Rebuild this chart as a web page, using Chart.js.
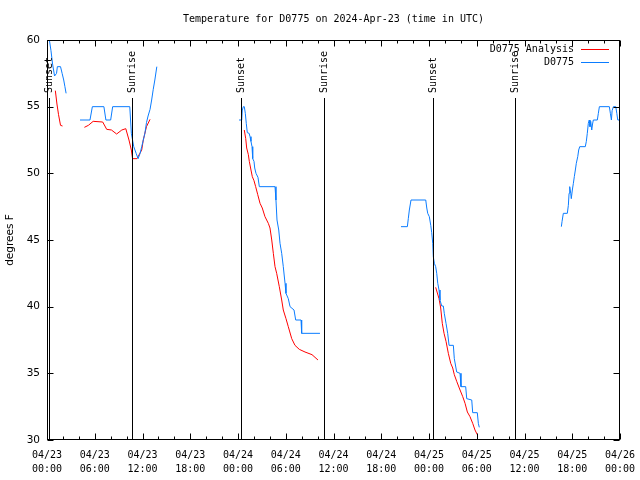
<!DOCTYPE html>
<html>
<head>
<meta charset="utf-8">
<script src="https://cdn.jsdelivr.net/npm/chart.js@4/dist/chart.umd.min.js"></script>
<style>html,body{margin:0;padding:0;background:#fff}canvas{display:block}</style>
</head>
<body>
<canvas id="c" width="640" height="480"></canvas>
<script>
/* Temperature for D0775, analysis vs. observed, hours since 2024-04-23 00:00 UTC */
const MONO = "10px 'DejaVu Sans Mono', monospace";
const SANS = "'DejaVu Sans', sans-serif";
const RED = '#ff0000', BLUE = '#0a7cff';

const xTickLabels = [
  ['04/23', '00:00'], ['04/23', '06:00'], ['04/23', '12:00'], ['04/23', '18:00'],
  ['04/24', '00:00'], ['04/24', '06:00'], ['04/24', '12:00'], ['04/24', '18:00'],
  ['04/25', '00:00'], ['04/25', '06:00'], ['04/25', '12:00'], ['04/25', '18:00'],
  ['04/26', '00:00'],
];
const sunHours = [0.3, 10.72, 24.35, 34.85, 48.54, 58.82];
const sunLabels = ['Sunset', 'Sunrise', 'Sunset', 'Sunrise', 'Sunset', 'Sunrise'];

// D0775 Analysis  [hour, degF]
const analysisSegments = [
  [[1.05, 56.2], [1.25, 55.2], [1.45, 54.4], [1.7, 53.6], [1.95, 53.55]],
  [[4.7, 53.45], [5.2, 53.6], [5.8, 53.9], [7.0, 53.85], [7.5, 53.3], [8.1, 53.25], [8.75, 52.95],
   [9.4, 53.25], [9.9, 53.35], [10.3, 52.5], [10.6, 51.75], [10.75, 51.1], [11.3, 51.1], [11.9, 51.75],
   [12.1, 52.5], [12.5, 53.5], [12.95, 54.05]],
  [[24.79, 53.25], [24.97, 52.6], [25.09, 51.9], [25.3, 51.4], [25.42, 50.9], [25.63, 50.25], [25.8, 49.75],
   [26.01, 49.45], [26.22, 49.0], [26.48, 48.4], [26.77, 47.75], [27.05, 47.4], [27.39, 46.75], [27.81, 46.25],
   [28.02, 45.9], [28.24, 45.0], [28.44, 44.0], [28.65, 43.0], [28.86, 42.5], [29.19, 41.5], [29.49, 40.5],
   [29.69, 39.75], [30.03, 39.1], [30.32, 38.5], [30.75, 37.6], [31.16, 37.1], [31.7, 36.8], [32.42, 36.6],
   [33.3, 36.4], [34.05, 36.0]],
  [[48.84, 41.45], [49.26, 40.6], [49.47, 39.9], [49.67, 38.75], [49.89, 38.0], [50.14, 37.4], [50.43, 36.5],
   [50.73, 35.75], [50.98, 35.4], [51.18, 34.9], [51.48, 34.4], [51.9, 33.75], [52.24, 33.25], [52.53, 32.75],
   [52.82, 32.1], [53.15, 31.75], [53.49, 31.25], [53.78, 30.75], [54.07, 30.4]],
];

// D0775 observations  [hour, degF]
const obsSegments = [
  [[0.3, 60], [0.5, 59.2], [0.7, 58.2], [0.95, 57.3], [1.2, 57.5], [1.3, 58], [1.7, 58], [1.9, 57.5],
   [2.1, 57], [2.25, 56.5], [2.4, 56]],
  [[4.15, 54], [5.4, 54], [5.7, 55], [7.15, 55], [7.4, 54], [8.0, 54], [8.25, 55], [10.4, 55], [10.6, 53],
   [10.9, 52], [11.2, 51.5], [11.45, 51.1], [11.7, 51.5], [11.9, 52], [12.1, 52.5], [12.3, 53], [12.5, 53.8],
   [12.7, 54.3], [12.95, 54.8], [13.15, 55.5], [13.35, 56.3], [13.55, 57], [13.8, 58]],
  [[24.13, 54], [24.47, 54], [24.54, 54.75], [24.67, 55], [24.79, 55], [24.92, 54.5], [25.04, 53.75],
   [25.17, 53.05], [25.4, 53.0], [25.51, 52.75], [25.63, 52.4], [25.76, 52.0], [25.85, 51.1], [26.01, 50.9],
   [26.1, 50.4], [26.26, 50.0], [26.51, 49.7], [26.68, 49], [28.65, 49], [28.77, 48.0], [28.9, 46.5],
   [29.12, 45.75], [29.28, 44.75], [29.49, 44.0], [29.69, 43.0], [29.91, 41.75], [30.03, 41.0], [30.32, 40.6],
   [30.54, 40.0], [31.04, 39.75], [31.25, 39.0], [31.92, 39.0], [32.0, 38], [34.3, 38]],
  [[44.48, 46], [45.28, 46], [45.4, 46.6], [45.53, 47.25], [45.74, 48], [47.59, 48], [47.72, 47.4],
   [47.84, 47.0], [48.04, 46.75], [48.22, 46.1], [48.34, 45.55], [48.47, 44.75], [48.54, 43.75], [48.67, 43.25],
   [48.84, 43.0], [48.97, 42.5], [49.1, 41.75], [49.26, 41.25], [49.38, 40.5], [49.6, 40.05], [49.8, 40.05],
   [49.92, 39.5], [50.14, 38.75], [50.35, 38.0], [50.52, 37.1], [51.06, 37.1], [51.18, 36.1], [51.48, 35.1],
   [51.9, 35.0], [52.02, 34.0], [52.61, 34.0], [52.74, 33.1], [53.37, 33.0], [53.49, 32.05], [54.07, 32.05],
   [54.2, 31.25], [54.32, 30.95]],
  [[64.63, 46], [64.72, 46.4], [64.88, 47], [65.38, 47], [65.51, 47.6], [65.6, 48.5], [65.68, 49], [65.81, 48.5],
   [65.88, 48.1], [66.01, 48.75], [66.14, 49.25], [66.26, 49.75], [66.39, 50.25], [66.51, 50.75], [66.69, 51.25],
   [66.81, 51.75], [66.94, 52], [67.64, 52], [67.77, 52.4], [67.89, 53], [68.02, 53.75], [68.14, 54],
   [68.23, 53.5], [68.32, 53.9], [68.45, 53.25], [68.55, 53.7], [68.65, 54], [69.15, 54], [69.28, 54.5],
   [69.41, 55], [70.66, 55], [70.79, 54.5], [70.92, 54], [71.01, 54.7], [71.17, 55], [71.47, 55], [71.6, 54.5],
   [71.72, 54], [72, 54]],
];

// join segments with null points so the line breaks between them
const toPoints = (segs) => segs.flatMap((s, i) => {
  const pts = s.map(([x, y]) => ({ x, y }));
  return i < segs.length - 1 ? [...pts, { x: s[s.length - 1][0] + 0.01, y: null }] : pts;
});

/* gnuplot-ish frame: box, inward ticks, sun event lines, legend, title */
const frame = {
  id: 'frame',
  afterDatasetsDraw(chart) {
    const { ctx, chartArea: a, scales: { x, y } } = chart;
    ctx.save();
    ctx.strokeStyle = '#000'; ctx.fillStyle = '#000'; ctx.lineWidth = 1;
    const L = a.left + .5, R = Math.round(a.right) - .5, T = a.top + .5, B = a.bottom - .5;

    // sunrise / sunset markers
    ctx.font = MONO; ctx.textAlign = 'left'; ctx.textBaseline = 'middle';
    sunHours.forEach((h, i) => {
      const px = Math.round(x.getPixelForValue(h)) + .5;
      ctx.beginPath(); ctx.moveTo(px, a.top + 58); ctx.lineTo(px, B); ctx.stroke();
      ctx.save(); ctx.translate(px, a.top + 53); ctx.rotate(-Math.PI / 2);
      ctx.fillText(sunLabels[i], 0, 0); ctx.restore();
    });

    ctx.strokeRect(L, T, R - L, B - T);
    ctx.beginPath();
    for (let h = 0; h <= 72; h += 2) {
      const px = Math.round(x.getPixelForValue(h)) + .5, len = h % 6 === 0 ? 6 : 3;
      ctx.moveTo(px, B); ctx.lineTo(px, B - len);
      ctx.moveTo(px, T); ctx.lineTo(px, T + len);
    }
    for (let v = 30; v <= 60; v += 5) {
      const py = Math.round(y.getPixelForValue(v)) + .5;
      ctx.moveTo(L, py); ctx.lineTo(L + 6, py);
      ctx.moveTo(R, py); ctx.lineTo(R - 6, py);
    }
    ctx.stroke();

    // legend, top right inside the plot
    const items = [['D0775 Analysis', RED], ['D0775', BLUE]];
    ctx.textAlign = 'right';
    items.forEach(([t, c], i) => {
      const ly = a.top + 9.5 + i * 13;
      ctx.fillStyle = '#000'; ctx.fillText(t, a.right - 46, ly);
      ctx.strokeStyle = c; ctx.beginPath(); ctx.moveTo(a.right - 39, ly); ctx.lineTo(a.right - 11, ly); ctx.stroke();
    });

    // title centred over the plot
    ctx.fillStyle = '#000'; ctx.textAlign = 'center';
    ctx.fillText('Temperature for D0775 on 2024-Apr-23 (time in UTC)', (a.left + a.right) / 2, 19.5);
    ctx.restore();
  },
};

new Chart(document.getElementById('c'), {
  type: 'line',
  data: {
    datasets: [
      { label: 'D0775', data: toPoints(obsSegments), borderColor: BLUE, borderWidth: 1, pointRadius: 0, spanGaps: false, order: 0 },
      { label: 'D0775 Analysis', data: toPoints(analysisSegments), borderColor: RED, borderWidth: 1, pointRadius: 0, spanGaps: false, order: 1 },
    ],
  },
  options: {
    responsive: false, animation: false, devicePixelRatio: 1,
    layout: { padding: { top: 40, right: 20, left: 0, bottom: 0 } },
    plugins: { legend: { display: false }, tooltip: { enabled: false }, title: { display: false } },
    elements: { line: { tension: 0 } },
    scales: {
      x: {
        type: 'linear', min: 0, max: 72,
        grid: { display: false, drawTicks: false }, border: { display: false },
        ticks: { stepSize: 6, autoSkip: false, maxRotation: 0, minRotation: 0, padding: 8, color: '#000',
          font: { family: "'DejaVu Sans Mono', monospace", size: 10, lineHeight: 1.4 },
          callback: (v) => xTickLabels[Math.round(v / 6)] },
        afterFit: (s) => { s.height = 40; s.paddingLeft = 0; s.paddingRight = 0; },
      },
      y: {
        min: 30, max: 60,
        grid: { display: false, drawTicks: false }, border: { display: false },
        ticks: { stepSize: 5, padding: 7, color: '#000', font: { family: SANS, size: 10.5 } },
        title: { display: true, text: 'degrees F', color: '#000', font: { family: SANS, size: 10.5 }, padding: { top: 4, bottom: 0 } },
        afterFit: (s) => { s.width = 47; s.paddingTop = 0; s.paddingBottom = 0; },
      },
    },
  },
  plugins: [frame],
});
</script>
</body>
</html>
